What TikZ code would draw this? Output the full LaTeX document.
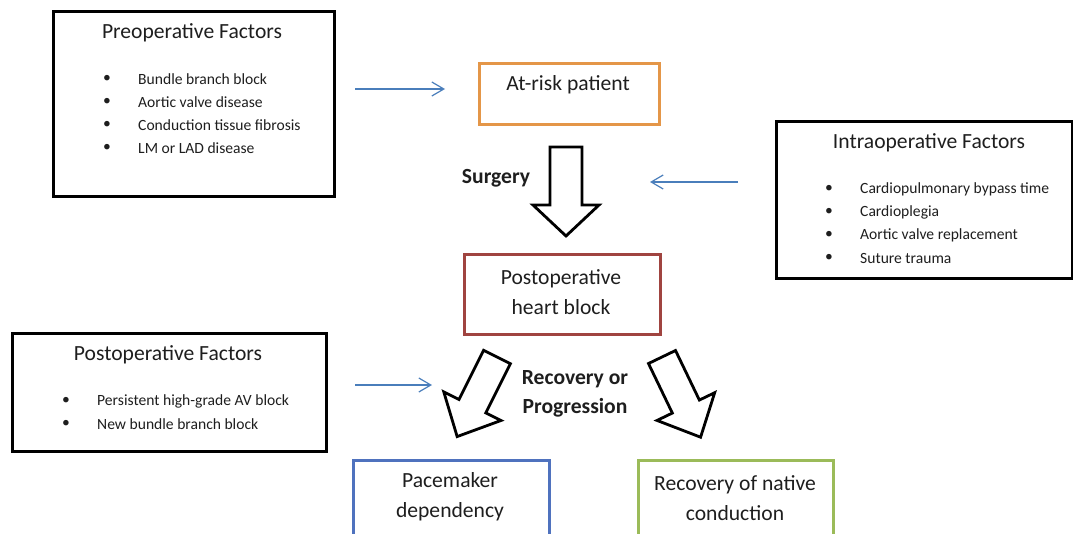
\documentclass[tikz,border=0pt]{standalone}
\usepackage{fontspec}
\setmainfont{Carlito}
\usetikzlibrary{arrows.meta}
\definecolor{riskorange}{RGB}{228,150,72}
\definecolor{blockred}{RGB}{160,68,64}
\definecolor{paceblue}{RGB}{79,114,190}
\definecolor{recgreen}{RGB}{155,187,89}
\definecolor{thinblue}{RGB}{74,126,187}
\definecolor{txt}{RGB}{30,30,30}
\begin{document}
\begin{tikzpicture}[x=1pt,y=-1pt,
  box/.style={draw=black, line width=3pt, anchor=north west, inner sep=0pt},
  cbox/.style={line width=3pt, anchor=north west, inner sep=0pt},
  title/.style={font=\fontsize{21.6}{24}\selectfont, text=txt, inner sep=0pt},
  item/.style={font=\fontsize{15.6}{18}\selectfont, text=txt, anchor=west, inner sep=0pt},
  bul/.style={font=\fontsize{15.6}{18}\selectfont, text=txt, inner sep=0pt},
  main/.style={font=\fontsize{21.6}{30}\selectfont, text=txt, inner sep=0pt, align=center},
  lbl/.style={font=\bfseries\fontsize{21.6}{29}\selectfont, text=txt, inner sep=0pt, align=center},
  thin/.style={draw=thinblue, line width=1.2pt, -{Straight Barb[length=12pt,width=14pt,line width=1.2pt]}},
  blockarrow/.style={draw=black, line width=2.8pt, fill=white, line join=miter}]
\useasboundingbox (0,0) rectangle (1073,533);
\clip (0,0) rectangle (1073,533);

% ---- Preoperative factors ----
\node[box, minimum width=281pt, minimum height=185pt] (pre) at (52,10) {};
\node[title] (pret) at (192,33) {Preoperative Factors};
\foreach \t [count=\i] in {Bundle branch block, Aortic valve disease, Conduction tissue fibrosis, LM or LAD disease}{
  \node[bul] (preb\i) at (107,79+23*\i-23) {\textbullet};
  \node[item] (prei\i) at (138,79+23*\i-23) {\t};
}

% ---- Intraoperative factors ----
\node[box, minimum width=296pt, minimum height=157pt] (intra) at (775,120) {};
\node[title] (intrat) at (929,143) {Intraoperative Factors};
\foreach \t [count=\i] in {Cardiopulmonary bypass time, Cardioplegia, Aortic valve replacement, Suture trauma}{
  \node[bul] (intrab\i) at (829,189+23*\i-23) {\textbullet};
  \node[item] (intrai\i) at (860,189+23*\i-23) {\t};
}

% ---- Postoperative factors ----
\node[box, minimum width=314pt, minimum height=118pt] (post) at (11,332) {};
\node[title] (postt) at (168,355) {Postoperative Factors};
\foreach \t [count=\i] in {Persistent high-grade AV block, New bundle branch block}{
  \node[bul] (postb\i) at (66,401+23*\i-23) {\textbullet};
  \node[item] (posti\i) at (97,401+23*\i-23) {\t};
}

% ---- Main flow boxes ----
\node[cbox, draw=riskorange, minimum width=180pt, minimum height=61pt] (risk) at (478,62) {};
\node[main] (riskt) at (568,85) {At-risk patient};

\node[cbox, draw=blockred, minimum width=196pt, minimum height=80pt] (hb) at (463,253) {};
\node[main] (hbt) at (561,292) {Postoperative\\heart block};

\node[cbox, draw=paceblue, minimum width=196pt, minimum height=90pt] (pace) at (352,459) {};
\node[main] (pacet) at (450,497) {Pacemaker\\dependency};

\node[cbox, draw=recgreen, minimum width=195pt, minimum height=90pt] (rec) at (637,459) {};
\node[main] (rect) at (735,498) {Recovery of native\\conduction};

% ---- Labels ----
\node[lbl] (surg) at (496,178) {Surgery};
\node[lbl] (recprog) at (575,394) {Recovery or\\Progression};

% ---- Block arrows ----
\begin{scope}[shift={(566,147)}]
  \draw[blockarrow] (-16,0) -- (16,0) -- (16,58) -- (33,58) -- (0,89) -- (-33,58) -- (-16,58) -- cycle;
\end{scope}
\begin{scope}[shift={(497,357)}, rotate=-26.6]
  \draw[blockarrow] (-15,0) -- (15,0) -- (15,55) -- (32,55) -- (0,89) -- (-32,55) -- (-15,55) -- cycle;
\end{scope}
\begin{scope}[shift={(662,357)}, rotate=25.7]
  \draw[blockarrow] (-15,0) -- (15,0) -- (15,55) -- (32,55) -- (0,89) -- (-32,55) -- (-15,55) -- cycle;
\end{scope}

% ---- Thin blue arrows ----
\coordinate (a1s) at (355,89);
\coordinate (a1e) at (445,89);
\coordinate (a2s) at (738,182);
\coordinate (a2e) at (650,182);
\coordinate (a3s) at (355,385);
\coordinate (a3e) at (432,385);
\draw[thin] (a1s) -- (a1e);
\draw[thin] (a2s) -- (a2e);
\draw[thin] (a3s) -- (a3e);
\end{tikzpicture}
\end{document}
